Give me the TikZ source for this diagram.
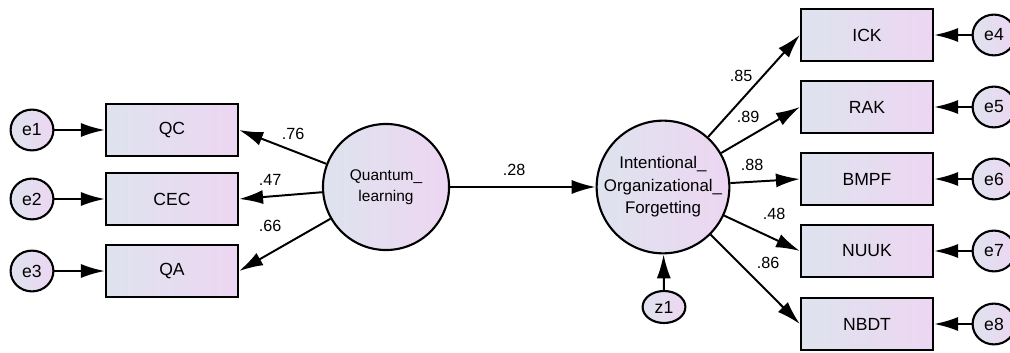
\documentclass[tikz,border=0pt]{standalone}
\usepackage{fontspec}
\setmainfont{Liberation Sans}
\usetikzlibrary{arrows.meta,shapes.geometric}
\definecolor{shadeL}{RGB}{222,227,238}
\definecolor{shadeR}{RGB}{237,214,242}

\begin{document}
\begin{tikzpicture}[x=0.025cm,y=-0.025cm,
  obs/.style={draw,line width=1.6pt,left color=shadeL,right color=shadeR,minimum width=3.3cm,minimum height=1.3cm,font=\fontsize{12.5}{14}\selectfont},
  lat/.style={draw,circle,line width=1.5pt,left color=shadeL,right color=shadeR,minimum size=3.15cm,inner sep=0pt,align=center,font=\fontsize{12}{16}\selectfont},
  err/.style={draw,ellipse,line width=1.5pt,left color=shadeL,right color=shadeR,minimum width=1.07cm,minimum height=1.02cm,inner sep=0pt,font=\fontsize{12.5}{14}\selectfont},
  reg/.style={line width=1.4pt,-{Latex[length=17pt,width=10pt]}},
  coef/.style={inner sep=1pt,font=\fontsize{11.5}{13}\selectfont}]
\useasboundingbox (0,0) rectangle (1010,353);

\node[err] (e1) at (32,130) {e1};
\node[err] (e2) at (32,199) {e2};
\node[err] (e3) at (32,271) {e3};
\node[obs] (QC) at (172,130) {QC};
\node[obs] (CEC) at (172,199) {CEC};
\node[obs] (QA) at (172,271) {QA};

\node[lat,font=\fontsize{11}{15}\selectfont] (QL) at (386,187) {Quantum\_\\learning};
\node[lat] (IOF) at (663,187) {Intentional\_\\Organizational\_\\Forgetting};
\node[err,minimum height=0.8cm] (z1) at (664,307) {z1};

\node[obs] (ICK) at (867,35) {ICK};
\node[obs] (RAK) at (867,107) {RAK};
\node[obs] (BMPF) at (867,179) {BMPF};
\node[obs] (NUUK) at (867,251) {NUUK};
\node[obs] (NBDT) at (867,324) {NBDT};
\node[err] (e4) at (994,35) {e4};
\node[err] (e5) at (994,107) {e5};
\node[err] (e6) at (994,179) {e6};
\node[err] (e7) at (994,251) {e7};
\node[err] (e8) at (994,324) {e8};

\draw[reg] (e1) -- (QC);
\draw[reg] (e2) -- (CEC);
\draw[reg] (e3) -- (QA);
\draw[reg] (QL) -- (QC.east);
\draw[reg] (QL) -- (CEC.east);
\draw[reg] (QL) -- (QA.east);
\draw[reg] (QL) -- (IOF);
\draw[reg] (z1) -- (IOF);
\draw[reg] (IOF) -- (ICK.west);
\draw[reg] (IOF) -- (RAK.west);
\draw[reg] (IOF) -- (BMPF.west);
\draw[reg] (IOF) -- (NUUK.west);
\draw[reg] (IOF) -- (NBDT.west);
\draw[reg] (e4) -- (ICK);
\draw[reg] (e5) -- (RAK);
\draw[reg] (e6) -- (BMPF);
\draw[reg] (e7) -- (NUUK);
\draw[reg] (e8) -- (NBDT);

\node[coef] (cQC) at (293,134) {.76};
\node[coef] (cCEC) at (270,180) {.47};
\node[coef] (cQA) at (270,226) {.66};
\node[coef] (cIOF) at (514,170) {.28};
\node[coef] (cICK) at (741,76) {.85};
\node[coef] (cRAK) at (748,117) {.89};
\node[coef] (cBMPF) at (752,165) {.88};
\node[coef] (cNUUK) at (774,214) {.48};
\node[coef] (cNBDT) at (768,263) {.86};
\end{tikzpicture}
\end{document}
